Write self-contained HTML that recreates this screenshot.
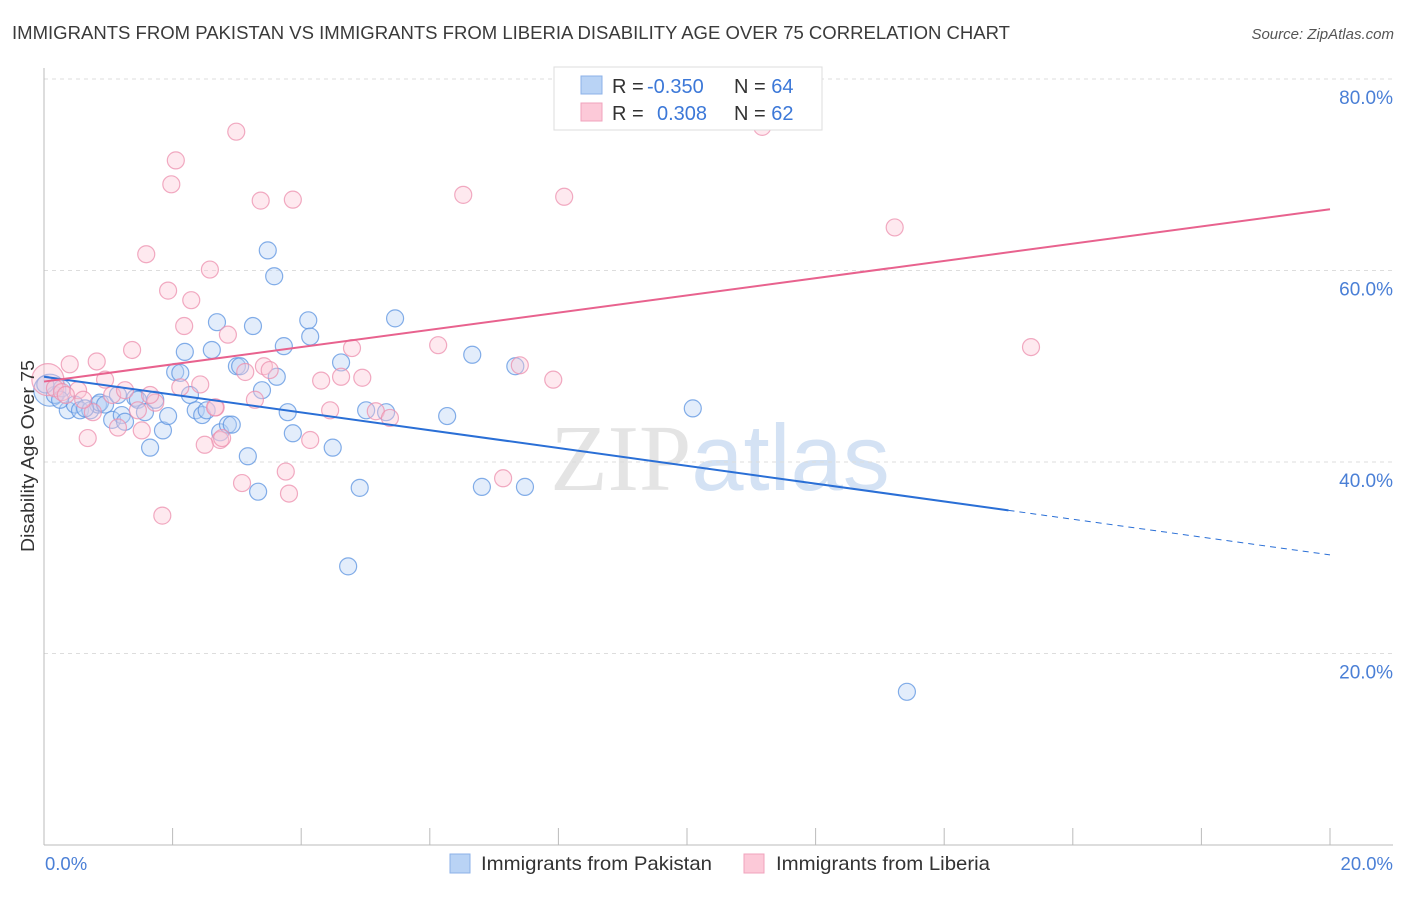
<!DOCTYPE html>
<html><head><meta charset="utf-8"><style>
body{margin:0;background:#fff;font-family:"Liberation Sans",sans-serif;}
</style></head><body>
<svg width="1406" height="892" xmlns="http://www.w3.org/2000/svg" font-family="Liberation Sans, sans-serif">
<text x="12" y="39" font-size="18" fill="#3a3a3a" textLength="998" lengthAdjust="spacingAndGlyphs">IMMIGRANTS FROM PAKISTAN VS IMMIGRANTS FROM LIBERIA DISABILITY AGE OVER 75 CORRELATION CHART</text>
<text x="1394" y="39" font-size="15" fill="#555" font-style="italic" text-anchor="end">Source: ZipAtlas.com</text>
<text x="720" y="490" font-size="94" fill="#e4e4e4" text-anchor="middle" font-family="Liberation Serif, serif">ZIP<tspan fill="#d4e2f4" font-family="Liberation Sans, sans-serif">atlas</tspan></text>
<g id="grid"></g>
<g id="axes"></g>
<g id="pts"></g>
<g id="trend"></g>
<text transform="translate(34,456) rotate(-90)" font-size="18" fill="#333" text-anchor="middle" textLength="192" lengthAdjust="spacingAndGlyphs">Disability Age Over 75</text>
<text x="45" y="870" font-size="18.5" fill="#4a7fd6">0.0%</text>
<text x="1393" y="870" font-size="18.5" fill="#4a7fd6" text-anchor="end">20.0%</text>
<g>
<rect x="554" y="67" width="268" height="63" fill="#fff" stroke="#ddd"/>
<rect x="581" y="76" width="21" height="18" fill="#b9d3f5" stroke="#8cb2e8"/>
<rect x="581" y="103" width="21" height="18" fill="#fcc9d8" stroke="#f0a3bd"/>
<text x="612" y="93" font-size="20" fill="#333">R = <tspan fill="#3c78d8" x="647">-0.350</tspan></text>
<text x="734" y="93" font-size="20" fill="#333">N = <tspan fill="#3c78d8">64</tspan></text>
<text x="612" y="120" font-size="20" fill="#333">R = <tspan fill="#3c78d8" x="657">0.308</tspan></text>
<text x="734" y="120" font-size="20" fill="#333">N = <tspan fill="#3c78d8">62</tspan></text>
</g>
<g>
<rect x="450" y="854" width="20" height="19" fill="#b9d3f5" stroke="#8cb2e8"/>
<text x="481" y="870" font-size="19.5" fill="#333" textLength="231" lengthAdjust="spacingAndGlyphs">Immigrants from Pakistan</text></g>
<g>
<rect x="744" y="854" width="20" height="19" fill="#fcc9d8" stroke="#f0a3bd"/>
<text x="776" y="870" font-size="19.5" fill="#333" textLength="214" lengthAdjust="spacingAndGlyphs">Immigrants from Liberia</text></g>
</svg>
<script>
const xTicks=[0,2,4,6,8,10,12,14,16,18,20];
const yTicks=[20,40,60,80];
const yTickLabels=["20.0%","40.0%","60.0%","80.0%"];
const blueX=[0.09,0.17,0.28,0.37,0.48,0.56,0.72,0.84,0.87,0.95,1.06,1.15,1.21,1.26,1.42,1.46,1.57,1.65,1.73,1.85,1.93,2.04,2.12,2.19,2.27,2.36,2.46,2.53,2.61,2.69,2.74,2.86,2.92,3.00,3.05,3.17,3.25,3.33,3.39,3.48,3.58,3.62,3.73,3.79,3.87,4.11,4.14,4.49,4.62,4.73,4.91,5.01,5.32,5.46,6.27,6.66,6.81,7.33,7.48,10.09,13.42,0.25,0.64,0.02];
const blueY=[47.5,47.0,47.7,45.4,46.0,45.4,45.4,46.0,46.2,46.0,44.4,47.0,44.9,44.2,46.7,46.5,45.2,41.5,46.5,43.3,44.8,49.4,49.3,51.5,47.0,45.4,44.9,45.4,51.7,54.6,43.1,43.9,43.9,50.0,50.0,40.6,54.2,36.9,47.5,62.1,59.4,48.9,52.1,45.2,43.0,54.8,53.1,41.5,50.4,29.1,37.3,45.4,45.2,55.0,44.8,51.2,37.4,50.0,37.4,45.6,16.0,46.5,45.6,48.1];
const pinkX=[0.06,0.17,0.28,0.40,0.53,0.68,0.76,0.82,0.95,1.06,1.15,1.26,1.37,1.46,1.52,1.59,1.73,1.84,1.93,1.98,2.05,2.12,2.18,2.29,2.43,2.58,2.67,2.74,2.77,2.86,2.99,3.08,3.13,3.28,3.37,3.42,3.76,3.81,3.87,4.14,4.31,4.62,4.79,4.95,5.16,5.38,6.13,6.52,7.14,7.40,7.92,8.09,11.17,13.23,15.35,0.34,0.61,1.65,2.50,2.66,3.51,4.45];
const pinkY=[48.6,47.7,47.3,50.2,47.5,42.5,45.2,50.5,48.6,47.0,43.6,47.5,51.7,45.4,43.3,61.7,46.2,34.4,57.9,69.0,71.5,47.8,54.2,56.9,48.1,60.1,45.7,42.3,42.5,53.3,74.5,37.8,49.4,46.5,67.3,50.0,39.0,36.7,67.4,42.3,48.5,48.9,51.9,48.8,45.3,44.6,52.2,67.9,38.3,50.1,48.6,67.7,75.0,64.5,52.0,47.0,46.5,47.0,41.8,45.7,49.6,45.4];
const blueTrend=[48.9,30.3];
const pinkTrend=[48.4,66.4];
const solidEnd=15.0;
const NS="http://www.w3.org/2000/svg";
const X0=44,X1=1330,Y0=845,Y80=79;
const sx=v=>X0+(v/20)*(X1-X0);
const sy=v=>Y0-(v/80)*(Y0-Y80);
function mk(tag,attrs,parent){const e=document.createElementNS(NS,tag);for(const k in attrs)e.setAttribute(k,attrs[k]);document.getElementById(parent).appendChild(e);return e;}
yTicks.forEach((t,i)=>{
 const l=mk('line',{x1:X0,x2:1393,y1:sy(t),y2:sy(t),stroke:'#ddd','stroke-dasharray':'4,4'},'grid');
 
 
 const tx=mk('text',{x:1393,y:sy(t)+25,'font-size':19,fill:'#4a7fd6','text-anchor':'end'},'grid');
 tx.textContent=yTickLabels[i];
 
 
});
const ax=mk('line',{x1:X0,x2:X0,y1:68,y2:Y0,stroke:'#bbb'},'axes');


const bx=mk('line',{x1:X0,x2:1393,y1:Y0,y2:Y0,stroke:'#bbb'},'axes');


xTicks.forEach(t=>{const l=mk('line',{x1:sx(t),x2:sx(t),y1:828,y2:Y0,stroke:'#bbb'},'axes');
 
 });
function pts(xs,ys,fill,stroke,name){xs.forEach((x,i)=>{
 const c=mk('circle',{cx:sx(x),cy:sy(ys[i]),r:i===0?16:8.5,fill:fill,'fill-opacity':0.4,stroke:stroke,'stroke-opacity':0.75,'stroke-width':1.2},'pts');
 
 });}
pts(blueX,blueY,'#b9d3f5','#5b93e0','pakistan-point');
pts(pinkX,pinkY,'#fcc9d8','#ec8fae','liberia-point');
const yb=x=>blueTrend[0]+(blueTrend[1]-blueTrend[0])*x/20;
const l1=mk('line',{x1:sx(0),y1:sy(blueTrend[0]),x2:sx(solidEnd),y2:sy(yb(solidEnd)),stroke:'#2a6fd6','stroke-width':2},'trend');


const l2=mk('line',{x1:sx(solidEnd),y1:sy(yb(solidEnd)),x2:sx(20),y2:sy(blueTrend[1]),stroke:'#2a6fd6','stroke-width':1,'stroke-dasharray':'6,5'},'trend');


const l3=mk('line',{x1:sx(0),y1:sy(pinkTrend[0]),x2:sx(20),y2:sy(pinkTrend[1]),stroke:'#e8628e','stroke-width':2},'trend');


</script>
</body></html>
